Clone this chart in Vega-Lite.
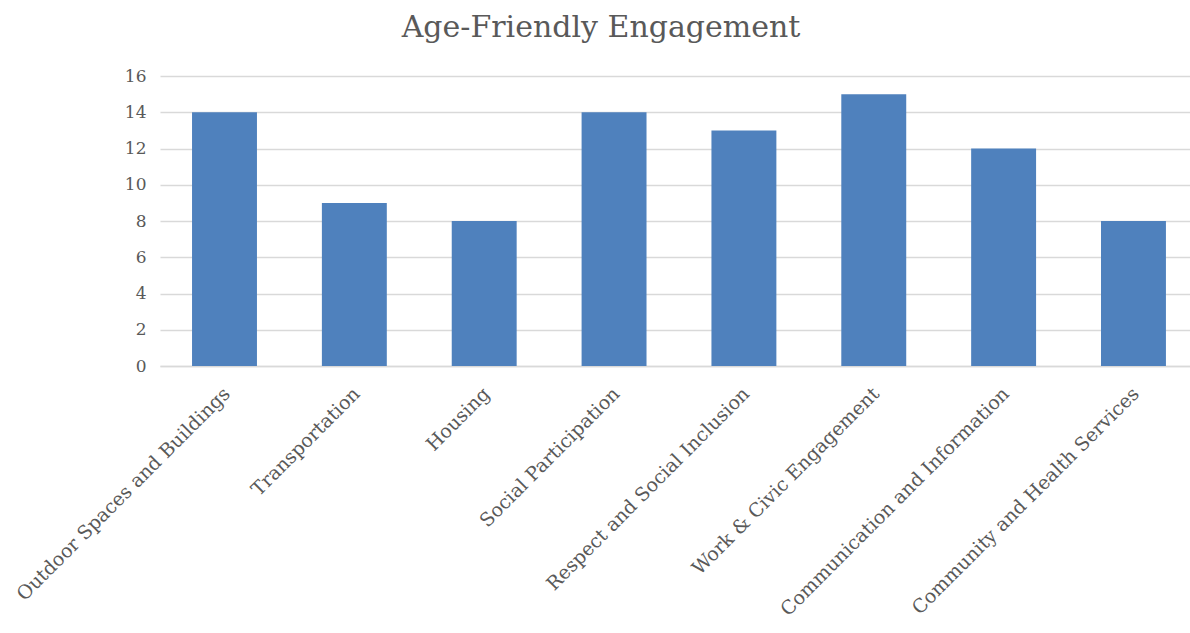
{
  "$schema": "https://vega.github.io/schema/vega-lite/v6.json",
  "autosize": "none",
  "width": 1030,
  "height": 290,
  "padding": {"left": 160, "top": 76, "right": 0, "bottom": 267},
  "background": "white",
  "title": {
    "text": "Age-Friendly Engagement",
    "font": "DejaVu Serif",
    "fontSize": 30,
    "fontWeight": "normal",
    "color": "#595959",
    "anchor": "middle",
    "dx": -74,
    "offset": 24
  },
  "data": {
    "values": [
      {"category": "Outdoor Spaces and Buildings", "value": 14},
      {"category": "Transportation", "value": 9},
      {"category": "Housing", "value": 8},
      {"category": "Social Participation", "value": 14},
      {"category": "Respect and Social Inclusion", "value": 13},
      {"category": "Work & Civic Engagement", "value": 15},
      {"category": "Communication and Information", "value": 12},
      {"category": "Community and Health Services", "value": 8}
    ]
  },
  "mark": {"type": "bar", "color": "#4f81bd"},
  "encoding": {
    "x": {
      "field": "category",
      "type": "nominal",
      "sort": null,
      "scale": {"paddingInner": 0.5, "paddingOuter": 0.216, "align": 0.571},
      "axis": {
        "title": null,
        "labelAngle": -45,
        "labelAlign": "right",
        "labelBaseline": "top",
        "labelFont": "DejaVu Serif",
        "labelFontSize": 19,
        "labelColor": "#595959",
        "labelPadding": 18,
        "labelOffset": -4,
        "ticks": false,
        "domainColor": "#d9d9d9",
        "domainWidth": 1.5,
        "labelLimit": 400
      }
    },
    "y": {
      "field": "value",
      "type": "quantitative",
      "scale": {"domain": [0, 16]},
      "axis": {
        "title": null,
        "values": [0, 2, 4, 6, 8, 10, 12, 14, 16],
        "labelFont": "DejaVu Serif",
        "labelFontSize": 17,
        "labelColor": "#595959",
        "labelPadding": 14,
        "ticks": false,
        "domain": false,
        "gridColor": "#d9d9d9",
        "gridWidth": 1.5
      }
    }
  },
  "config": {"view": {"stroke": null}}
}
